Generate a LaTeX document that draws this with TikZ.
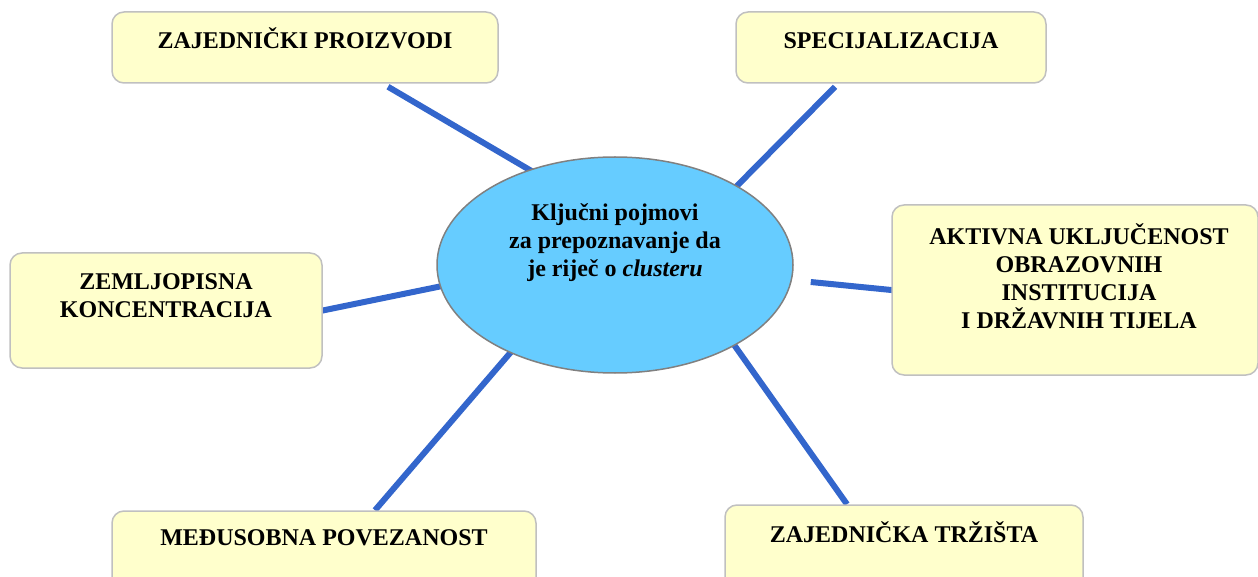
\documentclass[tikz,border=0pt]{standalone}
\usepackage{fontspec}
\setmainfont{Liberation Serif}
\usetikzlibrary{backgrounds,shapes.geometric}
\definecolor{boxfill}{HTML}{FFFFCC}
\definecolor{boxline}{HTML}{C0C0C0}
\definecolor{ellfill}{HTML}{66CCFF}
\definecolor{ellline}{HTML}{808080}
\definecolor{conncol}{HTML}{3366CC}
\begin{document}
\begin{tikzpicture}[x=1pt,y=-1pt,
  cbox/.style={draw=boxline, line width=1.5pt, fill=boxfill, rounded corners=12pt, inner sep=0pt},
  btext/.style={font=\fontsize{24}{28}\selectfont\bfseries, align=center, inner sep=0pt, text height=16pt, anchor=north},
  conn/.style={draw=conncol, line width=6pt}]
\useasboundingbox (0,0) rectangle (1258,577);
\clip (0,0) rectangle (1258,577);
% boxes
\node[cbox, minimum width=386pt, minimum height=71pt] (zp) at (305,47.5) {};
\node[btext] (zpt) at ([yshift=-21pt]zp.north) {ZAJEDNIČKI PROIZVODI};
\node[cbox, minimum width=310pt, minimum height=71pt] (sp) at (891,47.5) {};
\node[btext] (spt) at ([yshift=-21pt]sp.north) {SPECIJALIZACIJA};
\node[cbox, minimum width=366pt, minimum height=170pt] (ak) at (1075,290) {};
\node[btext] (akt) at ([xshift=4pt,yshift=-108pt]ak.north) {AKTIVNA UKLJUČENOST\\OBRAZOVNIH\\INSTITUCIJA\\I DRŽAVNIH TIJELA};
\node[cbox, minimum width=312pt, minimum height=115pt] (zk) at (166,310.5) {};
\node[btext] (zkt) at ([yshift=-49pt]zk.north) {ZEMLJOPISNA\\KONCENTRACIJA};
\node[cbox, minimum width=424pt, minimum height=109pt] (mp) at (324,565.5) {};
\node[btext] (mpt) at ([yshift=-19pt]mp.north) {MEĐUSOBNA POVEZANOST};
\node[cbox, minimum width=358pt, minimum height=115pt] (zt) at (904,562.5) {};
\node[btext] (ztt) at ([yshift=-22pt]zt.north) {ZAJEDNIČKA TRŽIŠTA};
% central ellipse
\node[ellipse, draw=ellline, line width=1.5pt, fill=ellfill, minimum width=356pt, minimum height=216pt, inner sep=0pt] (cl) at (615,265) {};
\node[btext] (clt) at (615,260) {Ključni pojmovi\\za prepoznavanje da\\je riječ o \textit{clusteru}};
% connectors
\begin{pgfonlayer}{background}
\draw[conn, shorten >=-8pt] ([xshift=83pt,yshift=-3pt]zp.south) -- (cl.132.8);
\draw[conn, shorten >=-8pt] ([xshift=-56pt,yshift=-3pt]sp.south) -- (cl.33.1);
\draw[conn, shorten >=-4pt] ([xshift=17pt,yshift=-17pt]cl.east) -- (ak.west);
\draw[conn, shorten >=-8pt, shorten <=-4pt] (zk.east) -- (cl.187.9);
\draw[conn, shorten >=-8pt] ([xshift=51pt]mp.north) -- (cl.220);
\draw[conn, shorten <=-8pt] (cl.-34.3) -- ([xshift=-57pt]zt.north);
\end{pgfonlayer}
\end{tikzpicture}
\end{document}
